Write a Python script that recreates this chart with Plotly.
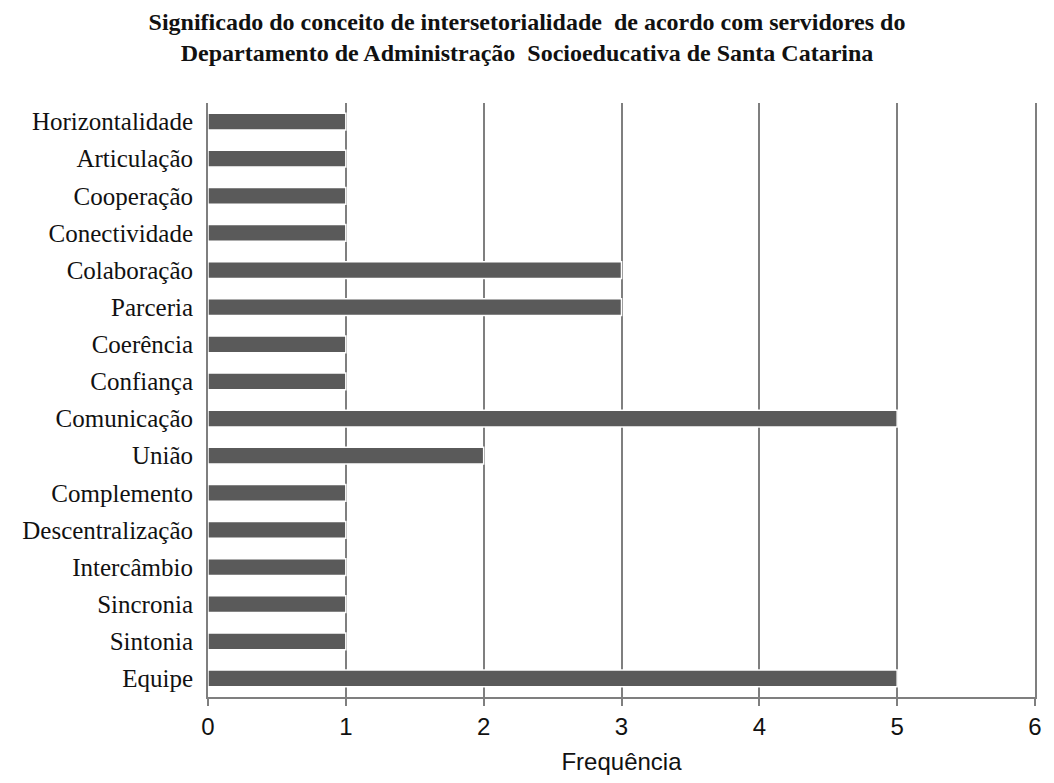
import plotly.graph_objects as go

# Significados citados (de cima para baixo) e respectivas frequências
termos = [
    "Horizontalidade", "Articulação", "Cooperação", "Conectividade",
    "Colaboração", "Parceria", "Coerência", "Confiança", "Comunicação",
    "União", "Complemento", "Descentralização", "Intercâmbio",
    "Sincronia", "Sintonia", "Equipe",
]
frequencias = [1, 1, 1, 1, 3, 3, 1, 1, 5, 2, 1, 1, 1, 1, 1, 5]
ticks_x = [0, 1, 2, 3, 4, 5, 6]

titulo = ("<b>Significado do conceito de intersetorialidade  de acordo com servidores do<br>"
          "Departamento de Administração  Socioeducativa de Santa Catarina</b>")

fig = go.Figure()

# sombra suave sob cada barra
fig.add_trace(go.Bar(
    x=frequencias, y=termos, orientation="h",
    width=0.16, offset=0.07,
    marker=dict(color="rgba(170,170,170,0.45)", line=dict(width=0)),
    hoverinfo="skip", showlegend=False,
))

fig.add_trace(go.Bar(
    x=frequencias, y=termos, orientation="h",
    width=0.45,
    marker=dict(color="#5a5a5a", line=dict(color="white", width=1.5)),
    showlegend=False,
))

fig.update_layout(
    width=1054, height=783,
    margin=dict(l=208, r=16, t=103, b=84),
    paper_bgcolor="white", plot_bgcolor="white",
    barmode="overlay",
    title=dict(
        text=titulo, x=0.5, xanchor="center",
        yref="container", y=0.962, yanchor="middle",
        font=dict(family="Liberation Serif", size=24, color="#111111"),
    ),
    xaxis=dict(
        range=[0, 6], tickvals=ticks_x, ticktext=[str(t) for t in ticks_x],
        showgrid=True, gridcolor="#7f7f7f", gridwidth=2,
        showline=True, linecolor="#7f7f7f", linewidth=2,
        ticks="outside", ticklen=7, tickwidth=2, tickcolor="#7f7f7f",
        tickfont=dict(family="Liberation Sans", size=24, color="#111111"),
        title=dict(text="Frequência", standoff=14,
                   font=dict(family="Liberation Sans", size=24, color="#111111")),
        zeroline=False, fixedrange=True,
    ),
    yaxis=dict(
        categoryorder="array", categoryarray=termos, autorange="reversed",
        showline=True, linecolor="#7f7f7f", linewidth=2, mirror=True,
        ticks="", ticklabelstandoff=8,
        tickfont=dict(family="Liberation Serif", size=25, color="#111111"),
        showgrid=False, fixedrange=True,
    ),
)

fig.write_html("out.html")
